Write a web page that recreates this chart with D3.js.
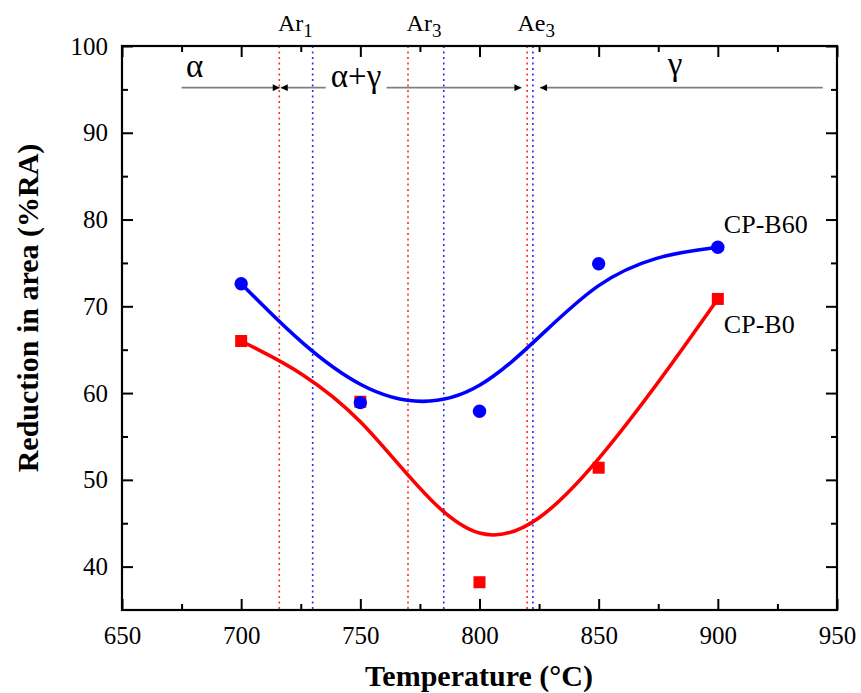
<!DOCTYPE html>
<html>
<head>
<meta charset="utf-8">
<script src="https://cdn.jsdelivr.net/npm/d3@7/dist/d3.min.js"></script>
<style>
  html, body { margin: 0; padding: 0; background: #fff; }
  svg text { font-family: "Liberation Serif", "Times New Roman", serif; }
</style>
</head>
<body>
<svg id="chart" width="861" height="693"></svg>
<script>
// Hot ductility: reduction in area vs. test temperature
const temperatures = [700, 750, 800, 850, 900];
const raB60 = [72.6, 58.9, 57.9, 74.9, 76.8];
const raB0  = [66.0, 59.0, 38.2, 51.4, 70.85];

// Transformation temperatures (red: CP-B0, blue: CP-B60)
const transformations = [
  { label: "Ar", sub: "1", b0: 716, b60: 730 },
  { label: "Ar", sub: "3", b0: 770, b60: 785 },
  { label: "Ae", sub: "3", b0: 820, b60: 822.4 }
];

const xTicks = [650, 700, 750, 800, 850, 900, 950];
const xMinor = [675, 725, 775, 825, 875, 925];
const yTicks = [40, 50, 60, 70, 80, 90, 100];
const yMinor = [45, 55, 65, 75, 85, 95];

const SERIF = "'Liberation Serif', 'Times New Roman', serif";
const W = 861, H = 693;
const m = { left: 122, right: 24, top: 46, bottom: 83 };
const iw = W - m.left - m.right, ih = H - m.top - m.bottom;

const svg = d3.select("#chart");
const g = svg.append("g").attr("transform", `translate(${m.left},${m.top})`);

const x = d3.scaleLinear().domain([650, 950]).range([0, iw]);
const y = d3.scaleLinear().domain([35, 100]).range([ih, 0]);

// Dotted transformation lines
transformations.forEach(t => {
  [["b0", "#ff2a2a"], ["b60", "#2a2aff"]].forEach(([k, c]) => {
    g.append("line")
      .attr("x1", x(t[k])).attr("x2", x(t[k]))
      .attr("y1", 0).attr("y2", ih)
      .attr("stroke", c).attr("stroke-width", 1.6)
      .attr("stroke-dasharray", "2,3.5");
  });
});

// Transformation labels above the frame
transformations.forEach((t, i) => {
  const tx = g.append("text")
    .attr("x", x(t.b0) + (i === 2 ? 9 : 16)).attr("y", -15)
    .attr("text-anchor", "middle")
    .style("font-family", SERIF)
    .attr("font-size", 24);
  tx.append("tspan").text(t.label);
  tx.append("tspan").attr("font-size", 19).attr("dy", 6).text(t.sub);
});

// Phase-field arrows
const arrowY = y(95.2);
svg.append("defs").append("marker")
  .attr("id", "ah").attr("viewBox", "0 0 10 10")
  .attr("refX", 10).attr("refY", 5)
  .attr("markerWidth", 16).attr("markerHeight", 7)
  .attr("markerUnits", "userSpaceOnUse")
  .attr("orient", "auto-start-reverse")
  .append("path").attr("d", "M0,0 L10,5 L0,10 Z").attr("fill", "#000");

const arrowSegs = [
  { from: 675, to: 716.2, start: false, end: true },
  { from: 716.6, to: 735.5, start: true, end: false },
  { from: 761, to: 817.6, start: false, end: true },
  { from: 825.4, to: 944, start: true, end: false }
];
arrowSegs.forEach(s => {
  const l = g.append("line")
    .attr("x1", x(s.from)).attr("x2", x(s.to))
    .attr("y1", arrowY).attr("y2", arrowY)
    .attr("stroke", "#808080").attr("stroke-width", 1.6);
  if (s.start) l.attr("marker-start", "url(#ah)");
  if (s.end) l.attr("marker-end", "url(#ah)");
});

const phases = [
  { text: "α", t: 680.5, dy: -11 },
  { text: "α+γ", t: 748.2, dy: -1 },
  { text: "γ", t: 882, dy: -13 }
];
phases.forEach(p => {
  g.append("text")
    .attr("x", x(p.t)).attr("y", arrowY + p.dy)
    .attr("text-anchor", "middle")
    .style("font-family", SERIF)
    .attr("font-size", 33)
    .text(p.text);
});

// B-spline curves
const line = d3.line()
  .x((d, i) => x(temperatures[i]))
  .y(d => y(d))
  .curve(d3.curveBasis);

g.append("path").datum(raB60).attr("d", line)
  .attr("fill", "none").attr("stroke", "#0000ff").attr("stroke-width", 3.6);
g.append("path").datum(raB0).attr("d", line)
  .attr("fill", "none").attr("stroke", "#ff0000").attr("stroke-width", 3.6);

// Markers
g.selectAll(".sq").data(raB0).enter().append("rect")
  .attr("x", (d, i) => x(temperatures[i]) - 6)
  .attr("y", d => y(d) - 6)
  .attr("width", 12).attr("height", 12)
  .attr("fill", "#ff0000");
g.selectAll(".ci").data(raB60).enter().append("circle")
  .attr("cx", (d, i) => x(temperatures[i]))
  .attr("cy", d => y(d))
  .attr("r", 6.7)
  .attr("fill", "#0000ff");

// Series labels
g.append("text").attr("x", x(900) + 6).attr("y", y(78.5))
  .style("font-family", SERIF).attr("font-size", 26).text("CP-B60");
g.append("text").attr("x", x(900) + 6).attr("y", y(66.9))
  .style("font-family", SERIF).attr("font-size", 26).text("CP-B0");

// Axes with inward ticks
function styleAxis(sel) {
  sel.attr("font-family", SERIF);
  sel.select(".domain").remove();
  sel.selectAll("line").attr("stroke", "#000").attr("stroke-width", 2);
  sel.selectAll("text").attr("font-size", 25).attr("fill", "#000")
     .style("font-family", SERIF);
}
g.append("g").attr("transform", `translate(0,${ih})`)
  .call(d3.axisBottom(x).tickValues(xTicks).tickSize(-11).tickPadding(16).tickFormat(d3.format("d")))
  .call(styleAxis);
g.append("g").attr("transform", `translate(0,${ih})`)
  .call(d3.axisBottom(x).tickValues(xMinor).tickSize(-6).tickFormat(""))
  .call(styleAxis);
g.append("g")
  .call(d3.axisTop(x).tickValues(xTicks).tickSize(-11).tickFormat(""))
  .call(styleAxis);
g.append("g")
  .call(d3.axisTop(x).tickValues(xMinor).tickSize(-6).tickFormat(""))
  .call(styleAxis);
g.append("g")
  .call(d3.axisLeft(y).tickValues(yTicks).tickSize(-11).tickPadding(14).tickFormat(d3.format("d")))
  .call(styleAxis);
g.append("g")
  .call(d3.axisLeft(y).tickValues(yMinor).tickSize(-6).tickFormat(""))
  .call(styleAxis);
g.append("g").attr("transform", `translate(${iw},0)`)
  .call(d3.axisRight(y).tickValues(yTicks).tickSize(-11).tickFormat(""))
  .call(styleAxis);
g.append("g").attr("transform", `translate(${iw},0)`)
  .call(d3.axisRight(y).tickValues(yMinor).tickSize(-6).tickFormat(""))
  .call(styleAxis);

// Frame
g.append("rect").attr("width", iw).attr("height", ih)
  .attr("fill", "none").attr("stroke", "#000").attr("stroke-width", 2.2);

// Axis titles
svg.append("text")
  .attr("x", 479).attr("y", 686)
  .attr("text-anchor", "middle").attr("font-size", 30).attr("font-weight", "bold")
  .style("font-family", SERIF)
  .text("Temperature (°C)");
svg.append("text")
  .attr("transform", `translate(38,${308}) rotate(-90)`)
  .attr("text-anchor", "middle").attr("font-size", 30).attr("font-weight", "bold")
  .style("font-family", SERIF)
  .text("Reduction in area (%RA)");
</script>
</body>
</html>
